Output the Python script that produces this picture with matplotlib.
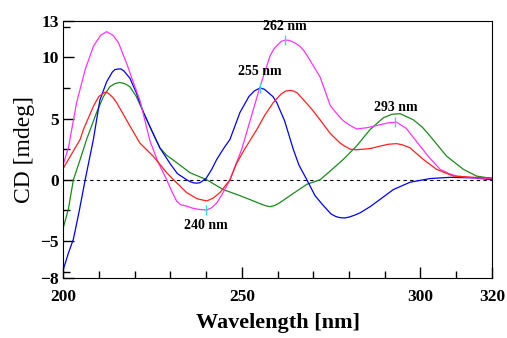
import matplotlib
matplotlib.use("Agg")
import matplotlib.pyplot as plt
from matplotlib.ticker import FixedLocator

serif = ['Liberation Serif', 'DejaVu Serif']

# CD spectra (wavelength nm, CD mdeg)
mag_wl = [200, 201.5, 203.8, 206.2, 208.5, 210.5, 212.2, 214, 215.5, 217.8, 219.5, 221.5, 224.3, 226.5, 229,
          230.5, 231.8, 233, 234.6, 236, 238, 240.2, 241.5, 243, 244.5, 246.7, 248, 250, 252.5, 255.1, 257.9,
          259, 260, 261, 262.1, 263, 264, 265, 266.3, 267.5, 269, 271.9, 273.5, 274.7, 276, 277.5, 278.5, 280,
          282.1, 285, 288, 291, 293.3, 296, 299.9, 302.5, 305.5, 308, 310.1, 315, 320]
mag_cd = [1.2, 2.6, 6.3, 9.0, 10.9, 11.8, 12.1, 11.8, 11.2, 9.5, 8.1, 6.5, 3.2, 1.5, 0.0,
          -1.0, -1.75, -2.05, -2.15, -2.3, -2.42, -2.47, -2.3, -1.9, -1.2, 0.0, 1.0, 2.5, 5.0, 7.6, 10.1,
          10.7, 11.0, 11.3, 11.4, 11.4, 11.3, 11.15, 10.9, 10.5, 9.8, 8.4, 7.1, 6.1, 5.6, 5.1, 4.8, 4.5,
          4.15, 4.25, 4.45, 4.65, 4.7, 4.2, 2.75, 1.8, 0.85, 0.5, 0.3, 0.15, 0.1]

blue_wl = [200, 201.5, 202.9, 204.5, 206.2, 208.5, 210.3, 212.2, 213.8, 214.5, 215.5, 216.2, 217, 218.7, 220.5,
           222.5, 225, 227.1, 230, 232, 234.6, 235.5, 236.5, 237.4, 238.3, 239, 240, 241.5, 243, 244.8, 246.7,
           249.5, 252, 253.5, 255.1, 256.3, 257.5, 258.7, 259.8, 262, 264.4, 266, 268.2, 270.5, 272.8, 275,
           276.3, 277.5, 278.8, 280, 281.5, 283.1, 285.9, 288.7, 292.4, 297.1, 302.7, 308.3, 315, 320]
blue_cd = [-7.4, -6.0, -4.85, -2.6, 0.0, 3.3, 6.5, 8.0, 8.8, 9.0, 9.05, 9.05, 8.9, 8.3, 7.1,
           5.5, 3.9, 2.6, 1.3, 0.5, 0.0, -0.15, -0.25, -0.28, -0.24, -0.1, 0.1, 0.8, 1.66, 2.5, 3.3,
           5.5, 6.8, 7.25, 7.5, 7.4, 7.1, 6.8, 6.3, 4.8, 2.5, 1.2, 0.0, -1.3, -2.1, -2.8,
           -3.0, -3.1, -3.12, -3.05, -2.9, -2.7, -2.2, -1.6, -0.8, -0.2, 0.1, 0.2, 0.15, 0.0]

green_wl = [200, 201.5, 202.9, 204.8, 206.6, 209.4, 211.3, 213.1, 214.5, 215.9, 217.3, 218.7, 220.5, 222.5,
            225, 227.1, 229, 231.8, 235.5, 240.2, 244.8, 249.5, 253, 255.5, 256.7, 257.9, 259.2, 260.5, 263.5,
            268.2, 271.9, 274.7, 278.4, 282.1, 285.9, 289.6, 292, 294.3, 298, 300.5, 302.7, 307.3, 312, 315.7, 320]
green_cd = [-4.0, -2.4, 0.0, 1.66, 3.3, 5.5, 6.8, 7.6, 7.85, 7.95, 7.85, 7.6, 6.8, 5.5,
            3.9, 2.6, 2.0, 1.4, 0.58, 0.0, -0.8, -1.3, -1.7, -2.0, -2.12, -2.2, -2.1, -1.9, -1.3,
            -0.37, 0.0, 0.7, 1.66, 2.75, 4.1, 5.06, 5.35, 5.4, 4.9, 4.3, 3.56, 1.93, 0.85, 0.3, 0.1]

red_wl = [200, 202, 204.8, 205.7, 208.5, 210, 211.7, 212.5, 213.3, 214, 215, 218.7, 221.5, 225.3, 229, 230.9,
          234.6, 237.5, 240.2, 242, 243.9, 246.7, 248.5, 250.4, 252.3, 254.2, 256.5, 258.8, 261, 262.3, 263.5,
          264.5, 265.5, 267.2, 269.5, 271.9, 274.7, 277.5, 278.5, 280.3, 282, 284.1, 286, 288.7, 291, 293.3,
          295, 297.1, 300.8, 304.5, 309.2, 315, 320]
red_cd = [0.9, 1.9, 3.3, 4.1, 6.0, 6.8, 7.15, 7.1, 6.9, 6.7, 6.3, 4.4, 3.0, 1.9, 0.58, 0.0,
          -1.05, -1.55, -1.73, -1.5, -1.05, 0.0, 1.3, 2.3, 3.2, 4.1, 5.3, 6.3, 7.0, 7.25, 7.3,
          7.25, 7.1, 6.55, 5.8, 4.9, 3.8, 3.0, 2.8, 2.5, 2.45, 2.5, 2.55, 2.75, 2.9, 2.95,
          2.85, 2.6, 1.66, 0.85, 0.3, 0.2, 0.15]

# marked bands
peak_wl = [240, 255, 262, 293]
peak_cd = [-2.47, 7.5, 11.4, 4.7]
peak_dy = [-15, 16, 14, 15]

fig = plt.figure(figsize=(5.07, 3.38), dpi=100)
ax = fig.add_axes([0.1243, 0.1784, 0.8461, 0.7606])

ax.axhline(0, color='black', lw=0.8, ls=(0, (3, 3)))
ax.plot(green_wl, green_cd, color='#1a8a1a', lw=0.9)
ax.plot(blue_wl, blue_cd, color='#0000ff', lw=0.9)
ax.plot(mag_wl, mag_cd, color='#ff33ff', lw=0.9)
ax.plot(red_wl, red_cd, color='#ff2020', lw=0.9)

ax.plot(peak_wl, peak_cd, ls='none', marker='|', ms=7, mew=1, color='#33dddd')
for wl, cd, dy in zip(peak_wl, peak_cd, peak_dy):
    ax.annotate(f"{wl} nm", (wl, cd), xytext=(0, dy), textcoords='offset pixels',
                ha='center', va='center', fontsize=10, fontweight='bold', family=serif)

ax.set_xlim(200, 320)
ax.set_ylim(-8, 13)
ax.xaxis.set_major_locator(FixedLocator([200, 250, 300, 320]))
ax.xaxis.set_minor_locator(FixedLocator([210, 220, 230, 240, 260, 270, 280, 290, 310]))
ax.yaxis.set_major_locator(FixedLocator([-8, -5, 0, 5, 10, 13]))
ax.yaxis.set_minor_locator(FixedLocator([-7.5, -2.5, 2.5, 7.5, 12.5]))
ax.tick_params(which='major', direction='in', length=8, width=1, labelsize=12.5)
ax.tick_params(which='minor', direction='in', length=5, width=1)
ax.tick_params(axis='x', which='major', pad=8)
ax.tick_params(axis='y', which='major', pad=3)
for lab in ax.get_xticklabels() + ax.get_yticklabels():
    lab.set_family(serif)
    lab.set_fontweight('bold')

ax.set_xlabel('Wavelength [nm]', fontsize=16, fontweight='bold', family=serif, labelpad=6)
ax.set_ylabel('CD [mdeg]', fontsize=17, family=serif, labelpad=4)

plt.savefig('out.png', dpi=100)
